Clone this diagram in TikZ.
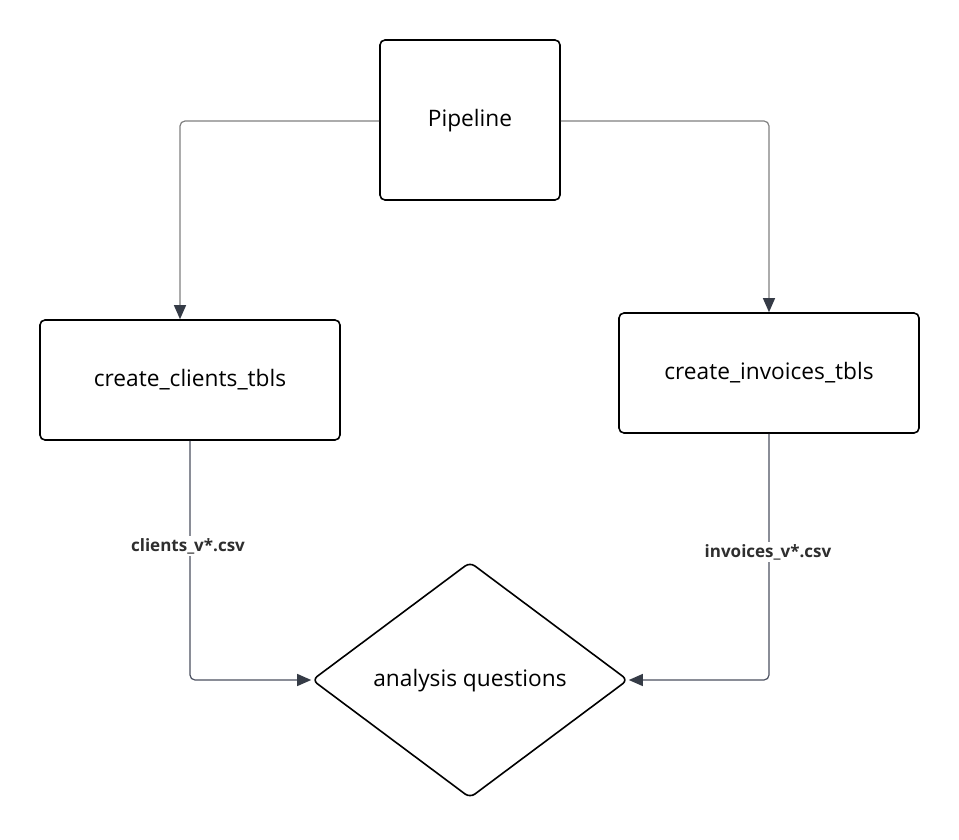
\documentclass[tikz,border=0pt]{standalone}
\usepackage{fontspec}
\setmainfont{Open Sans}
\usetikzlibrary{shapes.geometric,arrows.meta}
\definecolor{topline}{HTML}{808080}
\definecolor{botline}{HTML}{4B5060}
\definecolor{tipcol}{HTML}{353B46}
\tikzset{
  txt/.style={font=\fontsize{22.7}{26}\selectfont, text height=1.3em, text depth=0.08em},
  box/.style={draw=black, line width=1.6pt, rounded corners=5pt, inner sep=0pt, txt},
  conn/.style={line width=1.2pt, rounded corners=5pt, -{Triangle[length=14pt,width=12pt,color=tipcol]}},
  lbl/.style={fill=white, inner sep=2pt, font=\bfseries\fontsize{17}{19}\selectfont, text=black!82},
}
\begin{document}
\begin{tikzpicture}[x=1pt,y=-1pt]
\useasboundingbox (0,0) rectangle (959,840);
\node[box, minimum width=180pt, minimum height=160pt] (pipe) at (470,120) {Pipeline};
\node[box, minimum width=300pt, minimum height=120pt] (clients) at (190,380) {create\_clients\_tbls};
\node[box, minimum width=300pt, minimum height=120pt] (invoices) at (769,373) {create\_invoices\_tbls};
\node[draw=black, line width=1.6pt, diamond, rounded corners=6pt, minimum width=316pt, minimum height=236pt, inner sep=0pt, txt] (ana) at (470,680) {analysis questions};
\coordinate (cl) at (180,121);
\coordinate (cr) at (769,121);
\draw[conn, draw=topline] (pipe.west |- cl) -- (cl) -- (cl |- clients.north);
\draw[conn, draw=topline] (pipe.east |- cr) -- (cr) -- (cr |- invoices.north);
\coordinate (bl) at (190,680);
\coordinate (br) at (769,680);
\draw[conn, draw=botline] (clients.south -| bl) -- (bl) -- (ana.west);
\draw[conn, draw=botline] (invoices.south -| br) -- (br) -- (ana.east);
\node[lbl] (l1) at (188,546) {clients\_v*.csv};
\node[lbl] (l2) at (768,552) {invoices\_v*.csv};
\end{tikzpicture}
\end{document}
